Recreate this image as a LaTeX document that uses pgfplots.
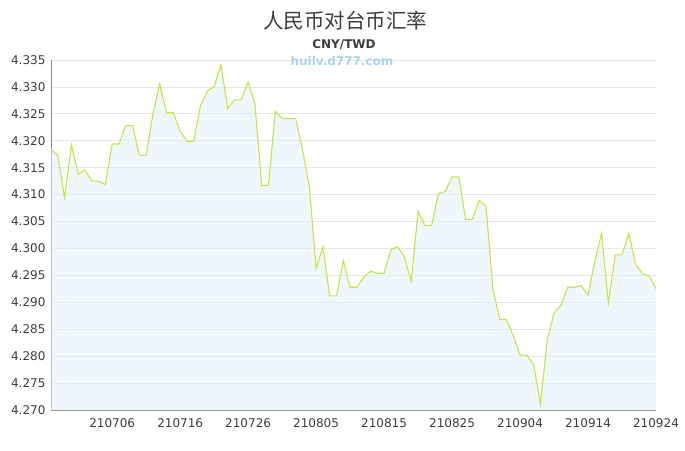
\documentclass[border=0pt]{standalone}
\usepackage{pgfplots}
\pgfplotsset{compat=1.18}
\usepackage{pgfplotstable}
\usepackage{fontspec}
\setmainfont{DejaVu Sans}
\newfontfamily\cjk{Noto Sans CJK SC}

\definecolor{linec}{RGB}{198,228,70}
\definecolor{fillc}{RGB}{226,241,252}
\definecolor{gridc}{RGB}{230,230,230}
\definecolor{txt}{RGB}{60,60,60}
\definecolor{axisc}{RGB}{140,140,140}
\definecolor{wm}{RGB}{170,212,236}

% daily CNY/TWD rate, index 0 = 210627
\pgfplotstableread{
i rate
0 4.3184
1 4.3173
2 4.3094
3 4.3193
4 4.3138
5 4.3146
6 4.3125
7 4.3125
8 4.3119
9 4.3194
10 4.3194
11 4.3228
12 4.3228
13 4.3173
14 4.3173
15 4.3250
16 4.3306
17 4.3252
18 4.3252
19 4.3218
20 4.3199
21 4.3199
22 4.3266
23 4.3292
24 4.3301
25 4.3341
26 4.3260
27 4.3276
28 4.3276
29 4.3309
30 4.3269
31 4.3117
32 4.3117
33 4.3255
34 4.3241
35 4.3241
36 4.3241
37 4.3184
38 4.3116
39 4.2963
40 4.3003
41 4.2912
42 4.2912
43 4.2978
44 4.2928
45 4.2928
46 4.2946
47 4.2958
48 4.2954
49 4.2954
50 4.2998
51 4.3003
52 4.2984
53 4.2939
54 4.3069
55 4.3043
56 4.3043
57 4.3102
58 4.3106
59 4.3133
60 4.3133
61 4.3054
62 4.3054
63 4.3089
64 4.3078
65 4.2926
66 4.2868
67 4.2868
68 4.2838
69 4.2802
70 4.2802
71 4.2785
72 4.2711
73 4.2829
74 4.2880
75 4.2894
76 4.2928
77 4.2928
78 4.2931
79 4.2913
80 4.2976
81 4.3028
82 4.2898
83 4.2988
84 4.2988
85 4.3028
86 4.2971
87 4.2953
88 4.2949
89 4.2925
}\ratedata

\begin{document}
\begin{tikzpicture}[x=1pt,y=1pt]
\useasboundingbox (0,0) rectangle (685,450);
\begin{axis}[
    at={(51pt,40pt)}, anchor=south west,
    scale only axis,
    width=605pt, height=350pt,
    xmin=0, xmax=89,
    ymin=4.270, ymax=4.335,
    xtick={9,19,29,39,49,59,69,79,89},
    xticklabels={210706,210716,210726,210805,210815,210825,210904,210914,210924},
    ytick={4.270,4.275,4.280,4.285,4.290,4.295,4.300,4.305,4.310,4.315,4.320,4.325,4.330,4.335},
    yticklabel style={xshift=-2pt, /pgf/number format/.cd, fixed, fixed zerofill, precision=3},
    /pgf/number format/assume math mode=true,
    tick label style={font=\fontsize{12}{12}\selectfont, text=txt},
    xticklabel style={yshift=-5pt},
    major tick length=0pt,
    axis x line*=bottom, axis y line*=left,
    axis line style={draw=axisc, line width=0.8pt},
    ymajorgrids, grid style={draw=gridc, line width=0.8pt},
]
\addplot[draw=none, fill=fillc, fill opacity=0.55] table[x=i, y=rate] {\ratedata} \closedcycle;
\addplot[linec, line width=1.1pt] table[x=i, y=rate] {\ratedata};
\end{axis}
\node[text=txt, font=\cjk\fontsize{20.5}{20.5}\selectfont] at (345,429) {人民币对台币汇率};
\node[text=txt, font=\bfseries\fontsize{12}{12}\selectfont] at (344,405) {CNY/TWD};
\node[text=wm, font=\bfseries\fontsize{12}{12}\selectfont] at (342,389) {huilv.d777.com};
\end{tikzpicture}
\end{document}
